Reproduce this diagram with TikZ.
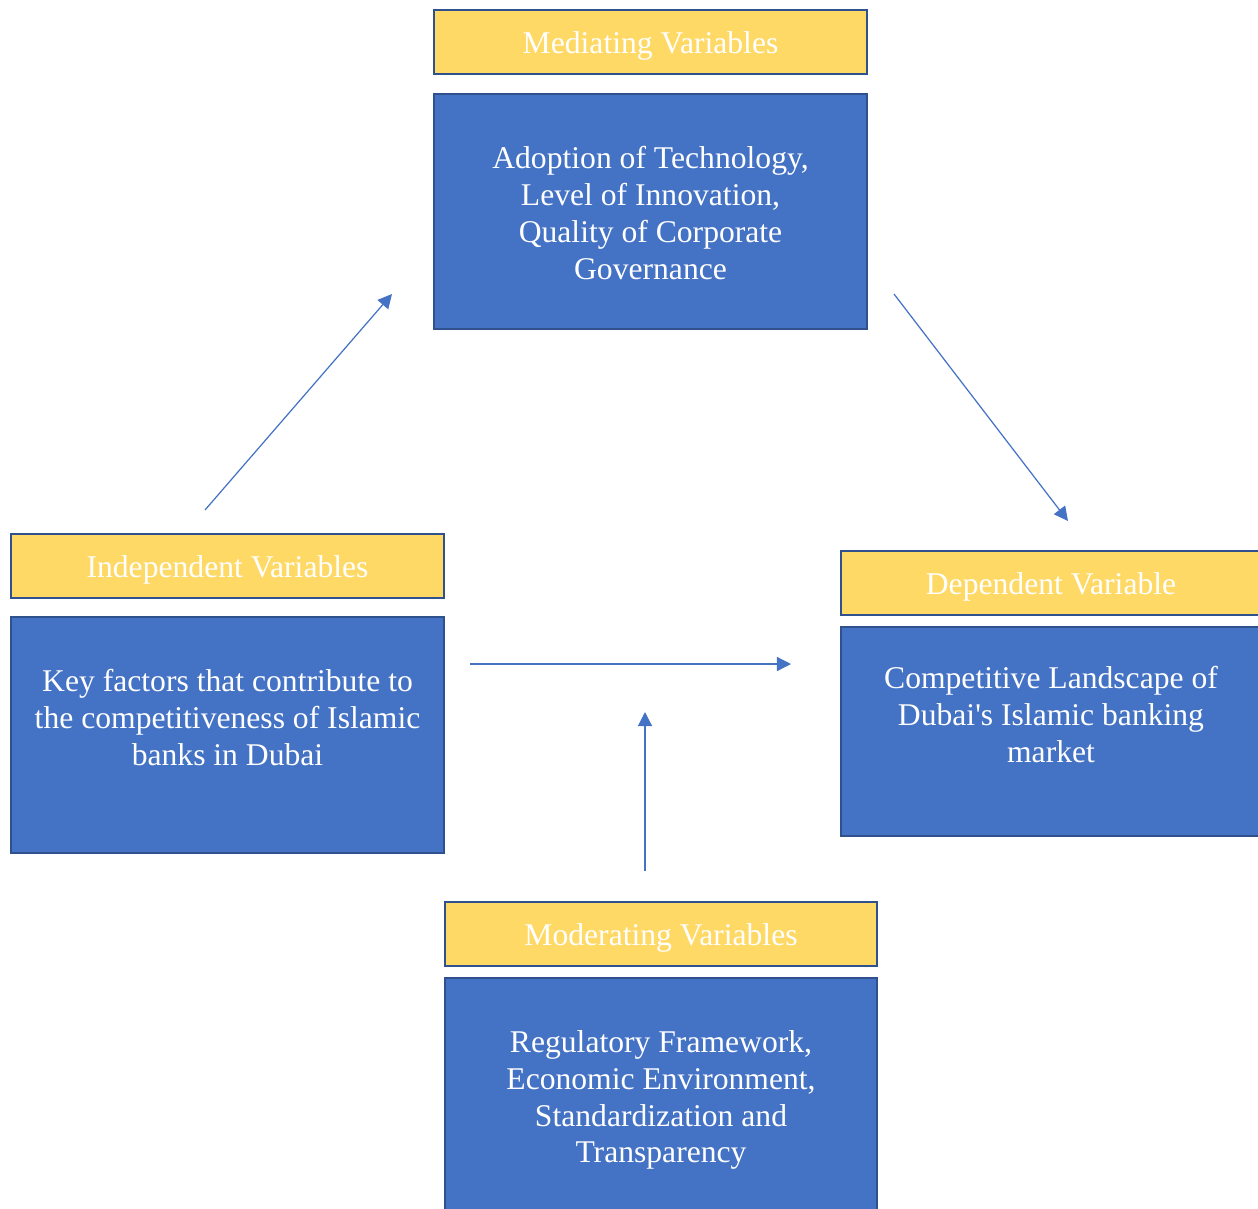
\documentclass[tikz,border=0pt]{standalone}
\usepackage{fontspec}
\newfontfamily\boxfont{Liberation Serif}
\usetikzlibrary{positioning,arrows.meta}
\definecolor{headyellow}{HTML}{FFD966}
\definecolor{bodyblue}{HTML}{4472C4}
\definecolor{edgeblue}{HTML}{2F528F}

\tikzset{
  boxbase/.style={draw=edgeblue, line width=1.2pt, anchor=north west, inner sep=0pt},
  headbox/.style={boxbase, fill=headyellow, text=white, font=\boxfont\fontsize{18}{21}\selectfont, text depth=0pt, minimum height=1.28cm},
  bodybox/.style={boxbase, fill=bodyblue},
  bodytext/.style={text=white, align=center, inner sep=0pt, font=\boxfont\fontsize{18}{21}\selectfont},
  flow/.style={draw=bodyblue, line width=0.7pt, -{Triangle[length=8pt,width=8pt]}}
}

\begin{document}
\begin{tikzpicture}[x=0.02cm,y=-0.02cm]
			\useasboundingbox (0,0) rectangle (1258,1208);
			% mediating
			\node[headbox, minimum width=8.66cm] (medhead) at (433,9) {Mediating Variables};
			\node[bodybox, minimum width=8.66cm, minimum height=4.7cm] (medbody) at (433,93) {};
			\node[bodytext, below=1.06cm of medbody.north] (medtext) {Adoption of Technology,\\Level of Innovation,\\Quality of Corporate\\Governance};
			% independent
			\node[headbox, minimum width=8.66cm] (indhead) at (10,533) {Independent Variables};
			\node[bodybox, minimum width=8.66cm, minimum height=4.72cm] (indbody) at (10,616) {};
			\node[bodytext, below=1.06cm of indbody.north] (indtext) {Key factors that contribute to\\the competitiveness of Islamic\\banks in Dubai};
			% dependent
			\node[headbox, minimum width=8.4cm] (dephead) at (840,550) {Dependent Variable};
			\node[bodybox, minimum width=8.4cm, minimum height=4.18cm] (depbody) at (840,626) {};
			\node[bodytext, below=0.8cm of depbody.north] (deptext) {Competitive Landscape of\\Dubai's Islamic banking\\market};
			% moderating
			\node[headbox, minimum width=8.64cm] (modhead) at (444,901) {Moderating Variables};
			\node[bodybox, minimum width=8.64cm, minimum height=5cm] (modbody) at (444,977) {};
			\node[bodytext, below=1.06cm of modbody.north] (modtext) {Regulatory Framework,\\Economic Environment,\\Standardization and\\Transparency};
			% arrows
			\coordinate (indout) at (205,510);
			\coordinate (medin) at (392,294);
			\coordinate (medout) at (894,294);
			\coordinate (depin) at (1068,521);
			\coordinate (indright) at (470,664);
			\coordinate (depleft) at (791,664);
			\coordinate (modup) at (645,871);
			\coordinate (midarrow) at (645,712);
			\draw[flow] (indout) -- (medin);
			\draw[flow] (medout) -- (depin);
			\draw[flow] (indright) -- (depleft);
			\draw[flow] (modup) -- (midarrow);
\end{tikzpicture}
\end{document}
